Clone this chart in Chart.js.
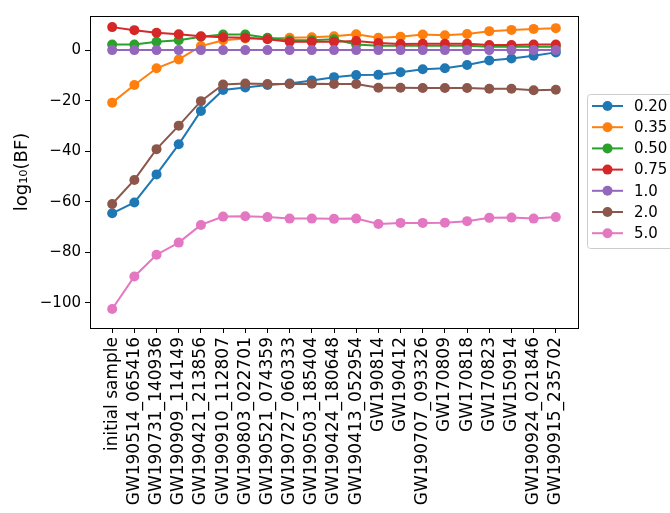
<!DOCTYPE html>
<html>
<head>
<meta charset="utf-8">
<script src="https://cdn.jsdelivr.net/npm/chart.js@4"></script>
<style>
  body { margin: 0; background: #fff; }
</style>
</head>
<body>
<canvas id="myChart" width="670" height="513"></canvas>
<script>
var events = ["initial sample", "GW190514_065416", "GW190731_140936", "GW190909_114149", "GW190421_213856",
  "GW190910_112807", "GW190803_022701", "GW190521_074359", "GW190727_060333", "GW190503_185404",
  "GW190424_180648", "GW190413_052954", "GW190814", "GW190412", "GW190707_093326", "GW170809",
  "GW170818", "GW170823", "GW150914", "GW190924_021846", "GW190915_235702"];

var seriesNames = ['0.20', '0.35', '0.50', '0.75', '1.0', '2.0', '5.0'];
var colors = ['#1f77b4', '#ff7f0e', '#2ca02c', '#d62728', '#9467bd', '#8c564b', '#e377c2'];

var bf020 = [-64.6, -60.3, -49.2, -37.3, -24.1, -15.8, -14.8, -13.8, -13.2, -12.0, -10.7,
  -9.9, -9.8, -8.8, -7.6, -7.2, -5.9, -4.1, -3.3, -2.2, -0.9];
var bf035 = [-20.8, -13.8, -7.2, -3.7, 1.6, 3.9, 4.6, 4.6, 4.9, 5.1, 5.5,
  6.3, 4.9, 5.3, 6.2, 5.9, 6.4, 7.5, 8.0, 8.4, 8.7];
var bf050 = [2.2, 2.2, 3.3, 3.9, 5.3, 6.2, 6.2, 4.9, 3.9, 3.9, 4.3,
  2.2, 1.7, 1.7, 1.7, 1.7, 1.7, 1.3, 1.3, 1.3, 1.3];
var bf075 = [9.1, 7.9, 6.9, 6.3, 5.5, 5.1, 4.9, 4.3, 3.3, 3.3, 3.3,
  3.6, 2.8, 2.4, 2.5, 2.5, 2.5, 2.0, 2.0, 2.2, 2.2];
var bf100 = [0, 0, 0, 0, 0, 0, 0, 0, 0, 0, 0,
  0, 0, 0, 0, 0, 0, 0, 0, 0, 0];
var bf200 = [-60.9, -51.4, -39.2, -29.9, -20.2, -13.6, -13.2, -13.4, -13.4, -13.3, -13.4,
  -13.4, -14.9, -14.9, -15.0, -15.0, -15.0, -15.3, -15.3, -15.9, -15.7];
var bf500 = [-102.5, -89.6, -81.0, -76.2, -69.2, -65.9, -65.8, -66.1, -66.7, -66.7, -66.8,
  -66.7, -68.8, -68.4, -68.4, -68.3, -67.7, -66.4, -66.3, -66.7, -66.1];

var yTicks = [-100, -80, -60, -40, -20, 0];

var allSeries = [bf020, bf035, bf050, bf075, bf100, bf200, bf500];

var datasets = allSeries.map(function (vals, i) {
  return {
    label: seriesNames[i],
    data: vals.map(function (v, k) { return { x: k, y: v }; }),
    borderColor: colors[i],
    backgroundColor: colors[i],
    borderWidth: 2,
    pointRadius: 5,
    pointBorderWidth: 0,
    pointBackgroundColor: colors[i],
    tension: 0,
    order: allSeries.length - i   // later series on top, as in matplotlib
  };
});

// box around plot area like matplotlib spines
var framePlugin = {
  id: 'frame',
  afterDraw: function (chart) {
    var a = chart.chartArea, c = chart.ctx;
    c.save();
    c.strokeStyle = '#000';
    c.lineWidth = 1;
    c.strokeRect(Math.round(a.left) + 0.5, Math.round(a.top) + 0.5,
      Math.round(a.right - a.left), Math.round(a.bottom - a.top));
    c.restore();
  }
};

// matplotlib-ish legend to the right of the axes
var legendPlugin = {
  id: 'mplLegend',
  afterDraw: function (chart) {
    var c = chart.ctx;
    var x0 = 587.5, y0 = 94.5, w = 100, h = 154, r = 3;
    c.save();
    c.beginPath();
    c.moveTo(x0 + r, y0);
    c.lineTo(x0 + w - r, y0);
    c.arcTo(x0 + w, y0, x0 + w, y0 + r, r);
    c.lineTo(x0 + w, y0 + h - r);
    c.arcTo(x0 + w, y0 + h, x0 + w - r, y0 + h, r);
    c.lineTo(x0 + r, y0 + h);
    c.arcTo(x0, y0 + h, x0, y0 + h - r, r);
    c.lineTo(x0, y0 + r);
    c.arcTo(x0, y0, x0 + r, y0, r);
    c.closePath();
    c.fillStyle = 'rgba(255,255,255,0.8)';
    c.fill();
    c.strokeStyle = '#cccccc';
    c.lineWidth = 1;
    c.stroke();
    c.font = '15px "DejaVu Sans"';
    c.textBaseline = 'middle';
    c.textAlign = 'left';
    for (var i = 0; i < seriesNames.length; i++) {
      var yy = 106 + i * 21.2;
      c.strokeStyle = colors[i];
      c.lineWidth = 2;
      c.beginPath();
      c.moveTo(592, yy);
      c.lineTo(623, yy);
      c.stroke();
      c.fillStyle = colors[i];
      c.beginPath();
      c.arc(607.5, yy, 5, 0, Math.PI * 2);
      c.fill();
      c.fillStyle = '#000';
      c.fillText(seriesNames[i], 634, yy + 1);
    }
    c.restore();
  }
};

var ctx = document.getElementById('myChart').getContext('2d');

var myChart = new Chart(ctx, {
  type: 'line',
  data: { datasets: datasets },
  options: {
    responsive: false,
    animation: false,
    layout: { padding: { top: 16, right: 92, left: 0, bottom: 0 } },
    plugins: {
      legend: { display: false },
      tooltip: { enabled: false }
    },
    scales: {
      x: {
        type: 'linear',
        min: -1,
        max: 21,
        afterBuildTicks: function (scale) {
          scale.ticks = events.map(function (e, k) { return { value: k }; });
        },
        afterFit: function (scale) { scale.height = 185; },
        ticks: {
          autoSkip: false,
          minRotation: 90,
          maxRotation: 90,
          padding: 4,
          color: '#000',
          font: { family: 'DejaVu Sans', size: 17 },
          callback: function (v) { return events[v]; }
        },
        grid: { drawOnChartArea: false, drawTicks: true, tickLength: 5, tickColor: '#000' },
        border: { display: true, color: '#000' }
      },
      y: {
        min: -110,
        max: 13.5,
        afterBuildTicks: function (scale) {
          scale.ticks = yTicks.map(function (v) { return { value: v }; });
        },
        afterFit: function (scale) { scale.width = 90; },
        title: {
          display: true,
          text: 'log\u2081\u2080(BF)',
          color: '#000',
          font: { family: 'DejaVu Sans', size: 18 },
          padding: { top: 12, bottom: 4 }
        },
        ticks: {
          padding: 4,
          color: '#000',
          font: { family: 'DejaVu Sans', size: 15 },
          callback: function (v) { return v < 0 ? '\u2212' + Math.abs(v) : String(v); }
        },
        grid: { drawOnChartArea: false, drawTicks: true, tickLength: 5, tickColor: '#000' },
        border: { display: true, color: '#000' }
      }
    }
  },
  plugins: [framePlugin, legendPlugin]
});
</script>
</body>
</html>
